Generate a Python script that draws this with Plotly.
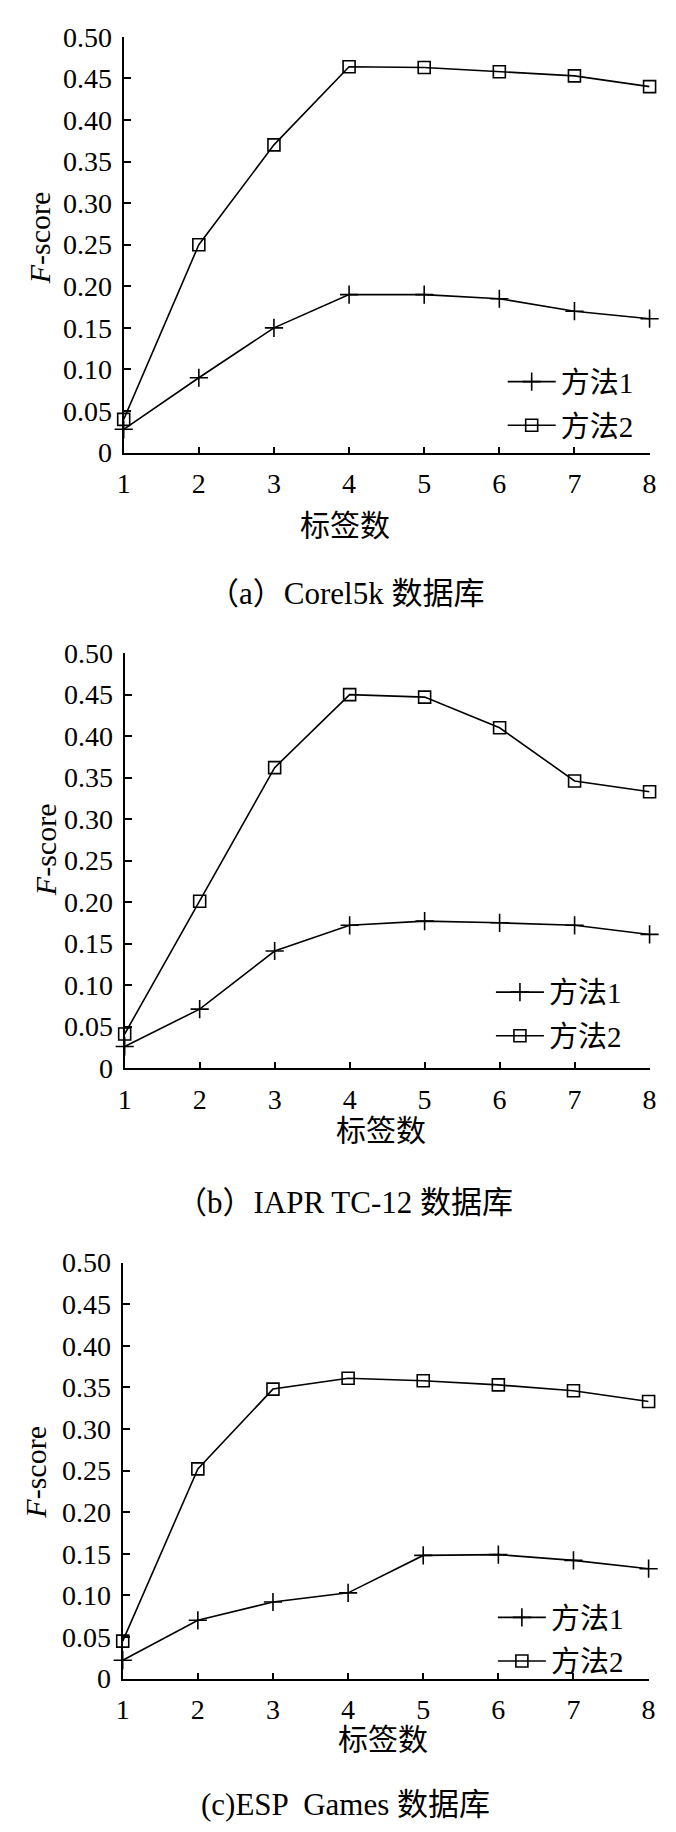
import plotly.graph_objects as go

W, H = 676, 1832

x_labels = [1, 2, 3, 4, 5, 6, 7, 8]
y_tickvals = [0, 0.05, 0.10, 0.15, 0.20, 0.25, 0.30, 0.35, 0.40, 0.45, 0.50]
y_ticktext = ["0", "0.05", "0.10", "0.15", "0.20", "0.25", "0.30", "0.35", "0.40", "0.45", "0.50"]

series_names = ["方法1", "方法2"]

corel_m1 = [0.028, 0.090, 0.150, 0.190, 0.190, 0.185, 0.170, 0.161]
corel_m2 = [0.040, 0.250, 0.370, 0.464, 0.463, 0.458, 0.453, 0.440]

iapr_m1 = [0.026, 0.071, 0.141, 0.172, 0.177, 0.175, 0.172, 0.161]
iapr_m2 = [0.041, 0.201, 0.362, 0.450, 0.447, 0.410, 0.346, 0.333]

esp_m1 = [0.022, 0.070, 0.092, 0.103, 0.148, 0.149, 0.142, 0.132]
esp_m2 = [0.045, 0.252, 0.348, 0.361, 0.358, 0.353, 0.346, 0.333]

captions = ["（a）Corel5k 数据库", "（b）IAPR TC-12 数据库", "(c)ESP  Games 数据库"]
x_title = "标签数"
y_title = "<i>F</i>-score"

SERIF = "Liberation Serif"
MIXED = "Liberation Serif, Noto Sans CJK SC"

def px_x(p):
    return p / W

def px_y(p):
    return 1 - p / H

# pixel geometry of each panel: (left, right, top, bottom)
panels = [
    dict(data=(corel_m1, corel_m2), box=(111, 648, 14, 437), ytitle=(24.5, 218), xtitle=(337, 511.5),
         cap=(337.5, 580), leg=(498, 339)),
    dict(data=(iapr_m1, iapr_m2), box=(112, 648, 641, 1063), ytitle=(31, 841), xtitle=(374, 1127),
         cap=(336, 1200), leg=(486, 960)),
    dict(data=(esp_m1, esp_m2), box=(110, 647, 1261, 1684), ytitle=(20, 1474), xtitle=(376, 1746),
         cap=(337, 1812), leg=(488, 1596)),
]

fig = go.Figure()
annotations = []
layout_axes = {}

for i, p in enumerate(panels):
    n = "" if i == 0 else str(i + 1)
    legname = "legend" + n
    m1, m2 = p["data"]
    fig.add_trace(go.Scatter(
        x=x_labels, y=m1, name=series_names[0], mode="lines+markers",
        line=dict(color="black", width=1.6),
        marker=dict(symbol="cross-thin", size=13, color="black", line=dict(color="black", width=1.6)),
        xaxis="x" + n, yaxis="y" + n, legend=legname, legendgroup=legname + "a",
        cliponaxis=False,
    ))
    fig.add_trace(go.Scatter(
        x=x_labels, y=m2, name=series_names[1], mode="lines+markers",
        line=dict(color="black", width=1.6),
        marker=dict(symbol="square-open", size=12, color="black", line=dict(color="black", width=1.6)),
        xaxis="x" + n, yaxis="y" + n, legend=legname, legendgroup=legname + "b",
        cliponaxis=False,
    ))
    l, r, t, b = p["box"]
    layout_axes["xaxis" + n] = dict(
        domain=[px_x(l), px_x(r)], range=[1, 8], anchor="y" + n,
        tickvals=x_labels, ticktext=[str(v) for v in x_labels],
        ticks="inside", ticklen=6, tickwidth=1.5, tickcolor="black",
        showline=True, linecolor="black", linewidth=2, showgrid=False, zeroline=False,
        tickfont=dict(family=SERIF, size=28, color="black"), ticklabelstandoff=5,
    )
    layout_axes["yaxis" + n] = dict(
        domain=[px_y(b), px_y(t)], range=[0, 0.5], anchor="x" + n,
        tickvals=y_tickvals, ticktext=y_ticktext,
        ticks="inside", ticklen=7, tickwidth=1.5, tickcolor="black",
        showline=True, linecolor="black", linewidth=2, showgrid=False, zeroline=False,
        tickfont=dict(family=SERIF, size=28, color="black"), ticklabelstandoff=4,
    )
    layout_axes[legname] = dict(
        x=px_x(p["leg"][0]), y=px_y(p["leg"][1]), xanchor="left", yanchor="top",
        bgcolor="rgba(0,0,0,0)", borderwidth=0, tracegroupgap=3, itemwidth=48,
        font=dict(family=MIXED, size=29, color="black"),
    )
    annotations.append(dict(
        x=px_x(p["ytitle"][0]), y=px_y(p["ytitle"][1]), xref="paper", yref="paper",
        text=y_title, textangle=-90, showarrow=False, xanchor="center", yanchor="middle",
        font=dict(family=SERIF, size=30, color="black"),
    ))
    annotations.append(dict(
        x=px_x(p["xtitle"][0]), y=px_y(p["xtitle"][1]), xref="paper", yref="paper",
        text=x_title, showarrow=False, xanchor="center", yanchor="middle",
        font=dict(family=MIXED, size=30, color="black"),
    ))
    annotations.append(dict(
        x=px_x(p["cap"][0]), y=px_y(p["cap"][1]), xref="paper", yref="paper",
        text=captions[i], showarrow=False, xanchor="center", yanchor="middle",
        font=dict(family=MIXED, size=31, color="black"),
    ))

fig.update_layout(
    width=W, height=H, margin=dict(l=0, r=0, t=0, b=0),
    paper_bgcolor="white", plot_bgcolor="white",
    showlegend=True, annotations=annotations, **layout_axes,
)

fig.write_html("out.html")
